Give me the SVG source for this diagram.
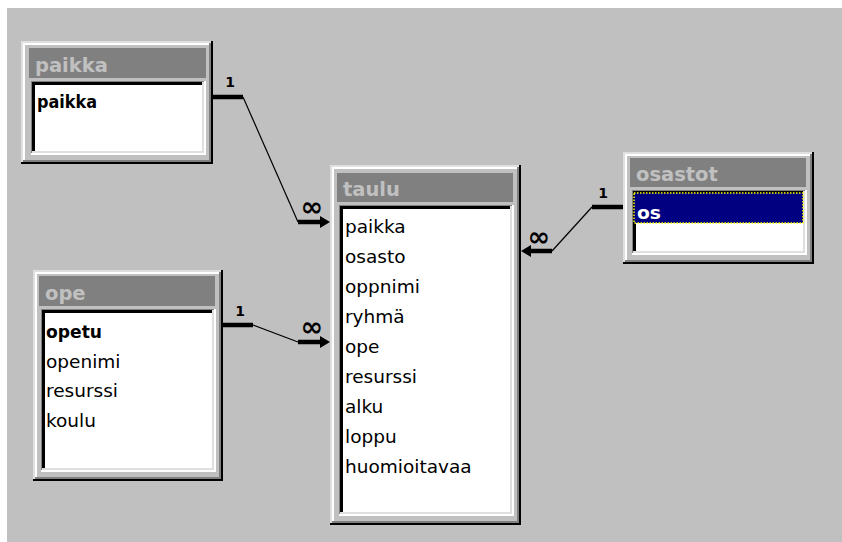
<svg xmlns="http://www.w3.org/2000/svg" width="842" height="542" viewBox="0 0 842 542">
<style>
.bg{fill:#c0c0c0}
.k{fill:#000}.l{fill:#dfdfdf}.d{fill:#808080}.w{fill:#fff}.f{fill:#c0c0c0}
.tb{fill:#808080}
.tt{font-family:"DejaVu Sans",sans-serif;font-weight:bold;font-size:19.5px;fill:#c0c0c0}
.fld{font-family:"DejaVu Sans",sans-serif;font-size:18.5px;fill:#000}
.key{font-family:"DejaVu Sans",sans-serif;font-weight:bold;font-size:18.5px;fill:#000}
.thick{stroke:#000;stroke-width:4.5;fill:none}
.thin{stroke:#000;stroke-width:1.2;fill:none}
.one{font-family:"DejaVu Sans",sans-serif;font-weight:bold;font-size:14px;fill:#000;text-anchor:middle}
.inf{font-family:"DejaVu Sans",sans-serif;font-weight:bold;font-size:27px;fill:#000;text-anchor:middle}
</style>
<defs>
<marker id="arr" markerUnits="userSpaceOnUse" viewBox="0 0 10 12" refX="0" refY="6" markerWidth="10" markerHeight="12" orient="auto">
<path d="M0,0 L10,6 L0,12 Z" fill="#000"/>
</marker>
</defs>
<rect x="0" y="0" width="842" height="542" fill="#fff"/>
<rect x="7" y="8" width="835" height="534" class="bg"/>

<g id="paikka">
<rect x="21" y="41" width="192" height="123" class="k"/>
<rect x="21" y="41" width="190" height="121" class="l"/>
<rect x="23" y="43" width="188" height="119" class="d"/>
<rect x="23" y="43" width="186" height="117" class="w"/>
<rect x="25" y="45" width="184" height="115" class="f"/>
<rect x="29" y="48" width="177" height="30" class="tb"/>
<text x="35" y="72" class="tt">paikka</text>
<rect x="31" y="81" width="175" height="74" class="w"/>
<rect x="31" y="81" width="173" height="72" class="d"/>
<rect x="32" y="82" width="172" height="71" class="l"/>
<rect x="32" y="82" width="170" height="69" class="k"/>
<rect x="35" y="85" width="167" height="66" class="w"/>
<text x="37" y="108" class="key" textLength="60" lengthAdjust="spacingAndGlyphs">paikka</text>
</g>

<g id="taulu">
<rect x="330" y="165" width="191" height="360" class="k"/>
<rect x="330" y="165" width="189" height="358" class="l"/>
<rect x="332" y="167" width="187" height="356" class="d"/>
<rect x="332" y="167" width="185" height="354" class="w"/>
<rect x="334" y="169" width="183" height="352" class="f"/>
<rect x="337" y="173" width="176" height="29" class="tb"/>
<text x="343" y="196" class="tt">taulu</text>
<rect x="339" y="205" width="175" height="311" class="w"/>
<rect x="339" y="205" width="173" height="309" class="d"/>
<rect x="340" y="206" width="172" height="308" class="l"/>
<rect x="340" y="206" width="170" height="306" class="k"/>
<rect x="343" y="209" width="167" height="303" class="w"/>
<text x="345" y="233" class="fld">paikka</text>
<text x="345" y="263" class="fld">osasto</text>
<text x="345" y="293" class="fld">oppnimi</text>
<text x="345" y="323" class="fld">ryhmä</text>
<text x="345" y="353" class="fld">ope</text>
<text x="345" y="383" class="fld">resurssi</text>
<text x="345" y="413" class="fld">alku</text>
<text x="345" y="443" class="fld">loppu</text>
<text x="345" y="473" class="fld">huomioitavaa</text>
</g>

<g id="ope">
<rect x="33" y="270" width="190" height="211" class="k"/>
<rect x="33" y="270" width="188" height="209" class="l"/>
<rect x="35" y="272" width="186" height="207" class="d"/>
<rect x="35" y="272" width="184" height="205" class="w"/>
<rect x="37" y="274" width="182" height="203" class="f"/>
<rect x="39" y="276" width="176" height="30" class="tb"/>
<text x="45" y="300" class="tt">ope</text>
<rect x="41" y="309" width="175" height="163" class="w"/>
<rect x="41" y="309" width="173" height="161" class="d"/>
<rect x="42" y="310" width="172" height="160" class="l"/>
<rect x="42" y="310" width="170" height="158" class="k"/>
<rect x="45" y="313" width="167" height="155" class="w"/>
<text x="46" y="338" class="key" textLength="56" lengthAdjust="spacingAndGlyphs">opetu</text>
<text x="46" y="368" class="fld">openimi</text>
<text x="46" y="397" class="fld">resurssi</text>
<text x="46" y="427" class="fld">koulu</text>
</g>

<g id="osastot">
<rect x="623" y="152" width="191" height="112" class="k"/>
<rect x="623" y="152" width="189" height="110" class="l"/>
<rect x="625" y="154" width="187" height="108" class="d"/>
<rect x="625" y="154" width="185" height="106" class="w"/>
<rect x="627" y="156" width="183" height="104" class="f"/>
<rect x="630" y="158" width="176" height="29" class="tb"/>
<text x="636" y="181" class="tt">osastot</text>
<rect x="632" y="190" width="175" height="65" class="w"/>
<rect x="632" y="190" width="173" height="63" class="d"/>
<rect x="633" y="191" width="172" height="62" class="l"/>
<rect x="633" y="191" width="170" height="60" class="k"/>
<rect x="636" y="194" width="167" height="57" class="w"/>
<rect x="634" y="193" width="169" height="30" fill="#000080" stroke="#ffff00" stroke-width="1.5" stroke-dasharray="1.5,1.5"/>
<text x="637" y="219" class="key" style="fill:#fff" textLength="24" lengthAdjust="spacingAndGlyphs">os</text>
</g>

<g id="connectors">
<path d="M213,97 H243" class="thick"/>
<path d="M243,97 L298,222" class="thin"/>
<path d="M298,222 H320" class="thick" marker-end="url(#arr)"/>
<text x="230" y="87" class="one">1</text>
<text x="312" y="216" class="inf">∞</text>

<path d="M223,325 H253" class="thick"/>
<path d="M253,325 L298,342" class="thin"/>
<path d="M298,342 H320" class="thick" marker-end="url(#arr)"/>
<text x="240" y="316" class="one">1</text>
<text x="312" y="336" class="inf">∞</text>

<path d="M623,207 H592" class="thick"/>
<path d="M592,207 L552,251" class="thin"/>
<path d="M552,251 H531" class="thick" marker-end="url(#arr)"/>
<text x="603" y="198" class="one">1</text>
<text x="539" y="246" class="inf">∞</text>
</g>
</svg>
